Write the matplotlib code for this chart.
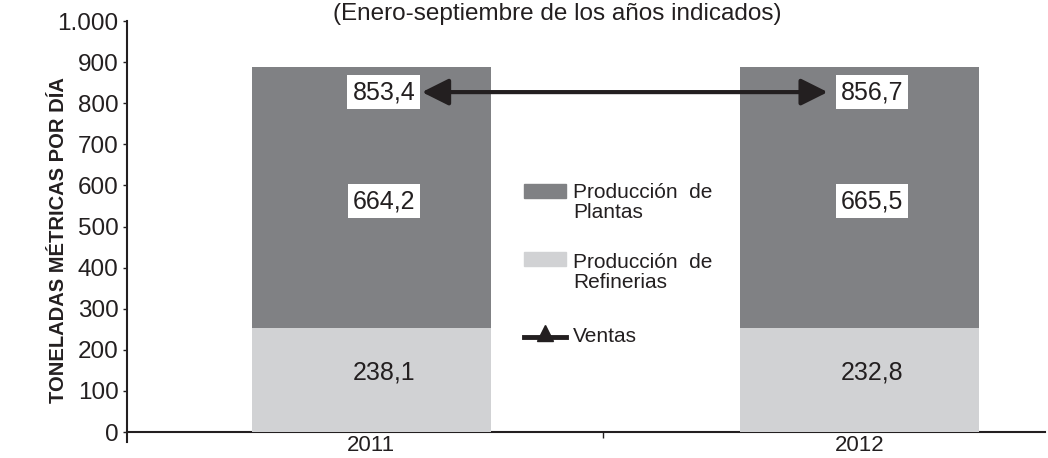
"""
Gráfico de producción y ventas (toneladas métricas por día), enero-septiembre 2011 y 2012.
"""

import matplotlib.pyplot as plt
from matplotlib.patches import Rectangle
from matplotlib.lines import Line2D

# Datos (etiquetas del gráfico)
years = ["2011", "2012"]
refinerias = [238.1, 232.8]
plantas = [664.2, 665.5]
ventas = [853.4, 856.7]

# Alturas tal como aparecen dibujadas en la figura original
refinerias_drawn = [253, 253]
total_drawn = [888, 888]
ventas_drawn = [827, 827]

y_ticks = [0, 100, 200, 300, 400, 500, 600, 700, 800, 900, 1000]
y_ticklabels = ["0", "100", "200", "300", "400", "500", "600", "700", "800", "900", "1.000"]

DARK = "#808184"
LIGHT = "#d1d2d4"
INK = "#231f20"

plt.rcParams['font.family'] = ['Liberation Sans', 'DejaVu Sans']

W, H = 1048, 458
fig = plt.figure(figsize=(W / 100, H / 100), dpi=100)
ax = fig.add_axes([127 / W, 1 - 442 / H, 918 / W, 421 / H])

x = [0, 1]
plantas_drawn = [t - r for t, r in zip(total_drawn, refinerias_drawn)]

# Barras apiladas
ax.bar(x, refinerias_drawn, width=0.49, color=LIGHT, zorder=3)
ax.bar(x, plantas_drawn, width=0.49, bottom=refinerias_drawn, color=DARK, zorder=3)

# Etiquetas de valores
dx = 0.026
box = dict(boxstyle="square,pad=0.2", fc="white", ec="none")
for i in range(2):
    ax.text(x[i] + dx, refinerias_drawn[i] * 0.57, "{:.1f}".format(refinerias[i]).replace(".", ","),
            ha="center", va="center", fontsize=18, color=INK, zorder=4)
    ax.text(x[i] + dx, refinerias_drawn[i] + plantas_drawn[i] * 0.485,
            "{:.1f}".format(plantas[i]).replace(".", ","),
            ha="center", va="center", fontsize=18, color=INK, bbox=box, zorder=4)
    ax.text(x[i] + dx, ventas_drawn[i], "{:.1f}".format(ventas[i]).replace(".", ","),
            ha="center", va="center", fontsize=18, color=INK, bbox=box, zorder=4)

# Flecha de ventas
ax.annotate("", xy=(x[1] - 0.065, ventas_drawn[1]), xytext=(x[0] + 0.104, ventas_drawn[0]),
            arrowprops=dict(arrowstyle="<|-|>,head_length=0.9,head_width=0.45", color=INK,
                            lw=3, shrinkA=0, shrinkB=0, mutation_scale=18),
            zorder=5)

# Ejes
ax.set_xlim(-0.5, 1.38)
ax.set_ylim(-24.3, 1000)
ax.spines['top'].set_visible(False)
ax.spines['right'].set_visible(False)
ax.spines['bottom'].set_position(('data', 0))
for s in ['left', 'bottom']:
    ax.spines[s].set_linewidth(1.5)
    ax.spines[s].set_color(INK)

ax.set_yticks(y_ticks)
ax.set_yticklabels(y_ticklabels)
ax.tick_params(axis='y', direction='out', length=3, width=1, labelsize=17.5, pad=3,
               colors=INK)

ax.set_xticks([0.475])
ax.set_xticklabels([""])
ax.tick_params(axis='x', which='major', direction='out', length=4.5, width=1, colors=INK)
ax.set_xticks(x, minor=True)
ax.set_xticklabels(years, minor=True)
ax.tick_params(axis='x', which='minor', length=0, labelsize=16, pad=2.5, colors=INK)

ax.set_ylabel("TONELADAS MÉTRICAS POR DÍA", fontsize=14.5, fontweight="bold", color=INK)
ax.yaxis.set_label_coords(-0.064, 0.48)

# Subtítulo
fig.text(557 / W, 1 - 14 / H, "(Enero-septiembre de los años indicados)",
         ha="center", va="center", fontsize=17.5, color=INK)

# Leyenda (dibujada a mano en coordenadas de píxel)
lg = fig.add_axes([0, 0, 1, 1], zorder=10)
lg.set_xlim(0, W)
lg.set_ylim(H, 0)
lg.axis("off")
lg.add_patch(Rectangle((524, 184), 42, 14, color=DARK))
lg.text(573, 218, "Producción  de\nPlantas", fontsize=15, color=INK, va="baseline",
        linespacing=1.05)
lg.add_patch(Rectangle((524, 252), 42, 14, color=LIGHT))
lg.text(573, 288, "Producción  de\nRefinerias", fontsize=15, color=INK, va="baseline",
        linespacing=1.05)
lg.add_line(Line2D([524, 566], [337, 337], color=INK, lw=3.5))
lg.plot([545], [333], marker="^", markersize=11, color=INK)
lg.text(573, 342, "Ventas", fontsize=15, color=INK, va="baseline")

fig.savefig("out.png", dpi=100)
